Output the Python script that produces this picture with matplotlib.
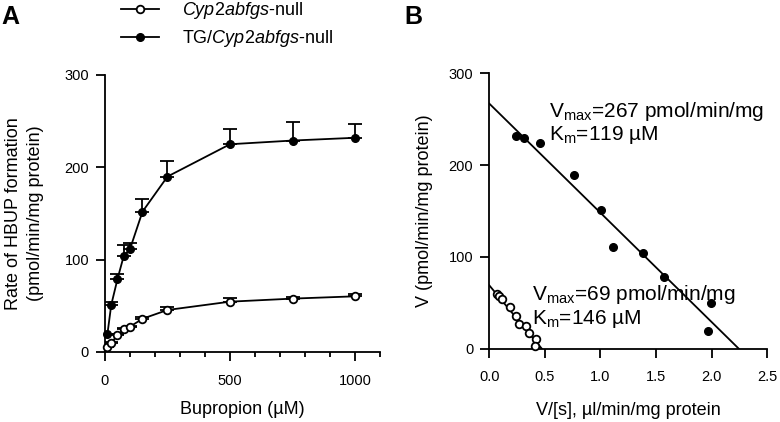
import matplotlib
matplotlib.use("Agg")
import matplotlib.pyplot as plt
from matplotlib.ticker import MultipleLocator, FixedLocator
import numpy as np

plt.rcParams['font.family'] = ['Liberation Sans', 'DejaVu Sans']
plt.rcParams['mathtext.fontset'] = 'custom'
plt.rcParams['mathtext.rm'] = 'Liberation Sans'
plt.rcParams['mathtext.it'] = 'Liberation Sans:italic'
plt.rcParams['mathtext.bf'] = 'Liberation Sans:bold'

# ---- Panel A data (Michaelis-Menten) ----
bupropion_um = [10, 25, 50, 75, 100, 150, 250, 500, 750, 1000]
tg_rate = [20, 51, 79, 104, 111.5, 152, 190, 225, 229, 232]
tg_err = [0, 3, 6, 12, 6.5, 14, 17, 17, 20, 14.5]
null_rate = [5, 10, 18, 24.5, 27.4, 36, 45.5, 54.5, 57.8, 60.3]
null_err = [0, 1, 1, 1, 1, 2, 3.5, 4.5, 2, 3]

# ---- Panel B data (Eadie-Hofstee) ----
tg_v_over_s = [0.24, 0.31, 0.455, 0.76, 1.006, 1.114, 1.383, 1.569, 1.99, 1.964]
tg_v = [231.7, 229, 224.5, 189, 151, 111, 104, 78.5, 49.4, 19.6]
null_v_over_s = [0.066, 0.084, 0.117, 0.19, 0.24, 0.266, 0.33, 0.36, 0.42, 0.41]
null_v = [59.2, 57.4, 53.8, 45, 35.6, 26.5, 24.7, 17.4, 10.2, 2.9]

tg_vmax, tg_km = 267, 119
null_vmax, null_km = 69, 146

label_null = r'$\mathit{Cyp2abfgs}$-null'
label_tg = r'TG/$\mathit{Cyp2abfgs}$-null'

fig = plt.figure(figsize=(7.8, 4.22), dpi=100)
axA = fig.add_axes([0.1346, 0.1659, 0.3526, 0.6564])
axB = fig.add_axes([0.6273, 0.1737, 0.3564, 0.6526])

lw = 1.3
ms = 5.5
lab_fs = 13

for ax in (axA, axB):
    for s in ('top', 'right'):
        ax.spines[s].set_visible(False)
    for s in ('left', 'bottom'):
        ax.spines[s].set_linewidth(lw)
    ax.tick_params(which='major', length=6.5, width=lw, labelsize=10.5)
    ax.tick_params(which='minor', length=3.6, width=lw)
    ax.tick_params(axis='x', pad=9)
    ax.tick_params(axis='y', pad=5)

# Panel A
axA.errorbar(bupropion_um, null_rate, yerr=[np.zeros(len(null_err)), null_err],
             fmt='none', ecolor='black', elinewidth=lw, capsize=5, capthick=lw, zorder=2)
axA.errorbar(bupropion_um, tg_rate, yerr=[np.zeros(len(tg_err)), tg_err],
             fmt='none', ecolor='black', elinewidth=lw, capsize=5, capthick=lw, zorder=2)
h1, = axA.plot(bupropion_um, null_rate, '-o', color='black', lw=lw, ms=ms,
               mfc='white', mec='black', mew=lw, clip_on=False, zorder=3, label=label_null)
h2, = axA.plot(bupropion_um, tg_rate, '-o', color='black', lw=lw, ms=ms,
               mfc='black', mec='black', clip_on=False, zorder=3, label=label_tg)
axA.set_xlim(0, 1100)
axA.set_ylim(0, 300)
axA.xaxis.set_major_locator(FixedLocator([0, 500, 1000]))
axA.xaxis.set_minor_locator(MultipleLocator(100))
axA.yaxis.set_major_locator(MultipleLocator(100))
axA.set_xlabel('Bupropion (µM)', fontsize=lab_fs, labelpad=10)
axA.set_ylabel('Rate of HBUP formation\n(pmol/min/mg protein)', fontsize=lab_fs,
               labelpad=15, linespacing=1.35)

axA.legend(handles=[h1, h2], loc='upper left', bbox_to_anchor=(0.1547, 1.0),
           bbox_transform=fig.transFigure, frameon=False, fontsize=13,
           handlelength=2.1, handletextpad=1.3, labelspacing=0.4, borderpad=0,
           borderaxespad=0)

# Panel B
axB.plot(tg_v_over_s, tg_v, 'o', color='black', ms=ms, clip_on=False, zorder=3)
axB.plot(null_v_over_s, null_v, 'o', mfc='white', mec='black', mew=lw, ms=ms,
         clip_on=False, zorder=3)
xt = np.array([0, tg_vmax / tg_km])
axB.plot(xt, tg_vmax - tg_km * xt, '-', color='black', lw=lw, zorder=2)
xn = np.array([0, null_vmax / null_km])
axB.plot(xn, null_vmax - null_km * xn, '-', color='black', lw=lw, zorder=2)
axB.set_xlim(0, 2.5)
axB.set_ylim(0, 300)
axB.xaxis.set_major_locator(MultipleLocator(0.5))
axB.xaxis.set_major_formatter(matplotlib.ticker.FormatStrFormatter('%.1f'))
axB.yaxis.set_major_locator(MultipleLocator(100))
axB.set_xlabel('V/[s], µl/min/mg protein', fontsize=lab_fs, labelpad=13)
axB.set_ylabel('V (pmol/min/mg protein)', fontsize=lab_fs, labelpad=11)

axB.text(0.54, 252.7, r'V$_{\mathrm{max}}$=%d pmol/min/mg' % tg_vmax, fontsize=15, va='baseline')
axB.text(0.54, 227.3, r'K$_{\mathrm{m}}$=%d µM' % tg_km, fontsize=15, va='baseline')
axB.text(0.381, 53, r'V$_{\mathrm{max}}$=%d pmol/min/mg' % null_vmax, fontsize=15, va='baseline')
axB.text(0.381, 26.9, r'K$_{\mathrm{m}}$=%d µM' % null_km, fontsize=15, va='baseline')

fig.text(0.002, 0.988, 'A', fontsize=18, fontweight='bold', va='top', ha='left')
fig.text(0.519, 0.988, 'B', fontsize=18, fontweight='bold', va='top', ha='left')

fig.savefig('out.png', dpi=100)
